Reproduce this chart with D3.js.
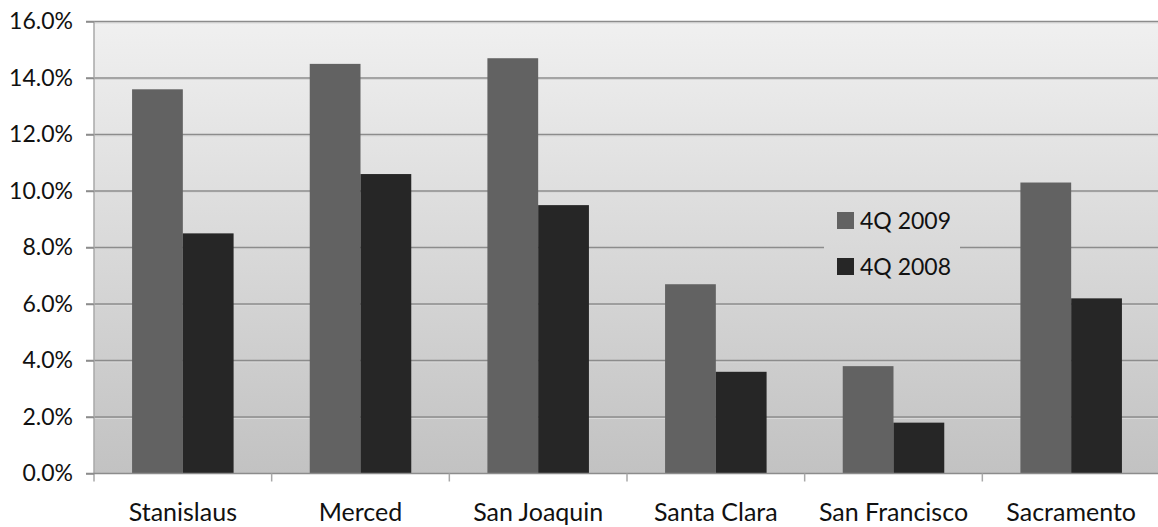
<!DOCTYPE html>
<html>
<head>
<meta charset="utf-8">
<script src="https://cdn.jsdelivr.net/npm/d3@7"></script>
<style>
  html, body { margin: 0; padding: 0; background: #fff; }
  svg { display: block; font-family: Lato, "Open Sans", sans-serif; }
</style>
</head>
<body>
<svg id="chart" width="1158" height="527"></svg>
<script>
// Unemployment rate by county, fourth quarter 2009 vs 2008
const counties = ["Stanislaus", "Merced", "San Joaquin", "Santa Clara", "San Francisco", "Sacramento"];
const series = ["4Q 2009", "4Q 2008"];
const q4_2009 = [13.6, 14.5, 14.7, 6.7, 3.8, 10.3];
const q4_2008 = [8.5, 10.6, 9.5, 3.6, 1.8, 6.2];
const yTicks = [0, 2, 4, 6, 8, 10, 12, 14, 16];
const seriesColors = ["#626262", "#262626"];

const svg = d3.select("#chart");
const plot = { left: 94, right: 1160, top: 21.5, bottom: 473.5 };
const fontFamily = "Lato, 'Open Sans', sans-serif";

// Background gradient of the plot area
const defs = svg.append("defs");
const grad = defs.append("linearGradient")
  .attr("id", "bg").attr("gradientUnits", "userSpaceOnUse")
  .attr("x1", 0).attr("y1", plot.top).attr("x2", 0).attr("y2", plot.bottom);
grad.append("stop").attr("offset", "0%").attr("stop-color", "#f0f0f0");
grad.append("stop").attr("offset", "100%").attr("stop-color", "#c2c2c2");

const x = d3.scaleBand().domain(counties).range([plot.left, plot.right]);
const y = d3.scaleLinear().domain([0, 16]).range([plot.bottom, plot.top]);
// Clustered bars with a 150% gap width
const barW = x.bandwidth() / 3.5;
const xs = d3.scaleBand().domain(series).range([0, barW * 2]);

svg.append("rect")
  .attr("x", plot.left).attr("y", plot.top)
  .attr("width", plot.right - plot.left).attr("height", plot.bottom - plot.top)
  .attr("fill", "url(#bg)");

// Horizontal gridlines with a soft highlight beneath
const grid = svg.append("g");
yTicks.filter(t => t > 0).forEach(t => {
  grid.append("line")
    .attr("x1", plot.left).attr("x2", plot.right)
    .attr("y1", y(t) + 1.5).attr("y2", y(t) + 1.5)
    .attr("stroke", "#d8d8d8").attr("stroke-width", 1);
  grid.append("line")
    .attr("x1", plot.left - 8).attr("x2", plot.right)
    .attr("y1", y(t)).attr("y2", y(t))
    .attr("stroke", "#8c8c8c").attr("stroke-width", 1.5);
});

// Bars
const rows = counties.map((c, i) => ({ county: c, values: [q4_2009[i], q4_2008[i]] }));
const groups = svg.append("g").selectAll("g").data(rows).join("g")
  .attr("transform", d => `translate(${x(d.county) + x.bandwidth() / 2 - barW},0)`);
groups.selectAll("rect")
  .data(d => d.values.map((v, j) => ({ s: series[j], v, j })))
  .join("rect")
  .attr("x", d => xs(d.s))
  .attr("width", xs.bandwidth())
  .attr("y", d => y(d.v))
  .attr("height", d => y(0) - y(d.v))
  .attr("fill", d => seriesColors[d.j]);

// Y axis
const yAxis = d3.axisLeft(y).tickValues(yTicks).tickSize(8).tickPadding(13)
  .tickFormat(d => d.toFixed(1) + "%");
const gy = svg.append("g").attr("transform", `translate(${plot.left},0)`).call(yAxis);
gy.select(".domain").attr("stroke", "#a8a8a8").attr("stroke-width", 1.5)
  .attr("d", `M0,${plot.top}V${plot.bottom + 8}`);
gy.selectAll(".tick line").attr("stroke", "#8c8c8c").attr("stroke-width", 1.5);
gy.selectAll(".tick text").attr("fill", "#111").attr("font-size", 23)
  .attr("font-family", fontFamily);

// X axis
const xAxis = d3.axisBottom(x).tickSize(0).tickPadding(30);
const gx = svg.append("g").attr("transform", `translate(0,${plot.bottom})`).call(xAxis);
gx.select(".domain").attr("stroke", "#8c8c8c").attr("stroke-width", 1.5)
  .attr("d", `M${plot.left - 8},0H${plot.right}`);
gx.selectAll(".tick text").attr("fill", "#111").attr("font-size", 25)
  .attr("font-family", fontFamily);
// Category boundary ticks
svg.append("g").selectAll("line")
  .data(counties.slice(1))
  .join("line")
  .attr("x1", d => x(d)).attr("x2", d => x(d))
  .attr("y1", plot.bottom).attr("y2", plot.bottom + 8)
  .attr("stroke", "#a8a8a8").attr("stroke-width", 1.5);

// Legend
const legend = svg.append("g");
legend.append("rect")
  .attr("x", 824).attr("y", 197).attr("width", 136).attr("height", 92)
  .attr("fill", "url(#bg)");
series.forEach((s, i) => {
  const yy = 212 + i * 46;
  legend.append("rect").attr("x", 837).attr("y", yy).attr("width", 17).attr("height", 17)
    .attr("fill", seriesColors[i]);
  legend.append("text").attr("x", 860).attr("y", yy + 8.5).attr("dy", "0.35em")
    .attr("font-size", 23).attr("fill", "#111").text(s);
});
</script>
</body>
</html>
